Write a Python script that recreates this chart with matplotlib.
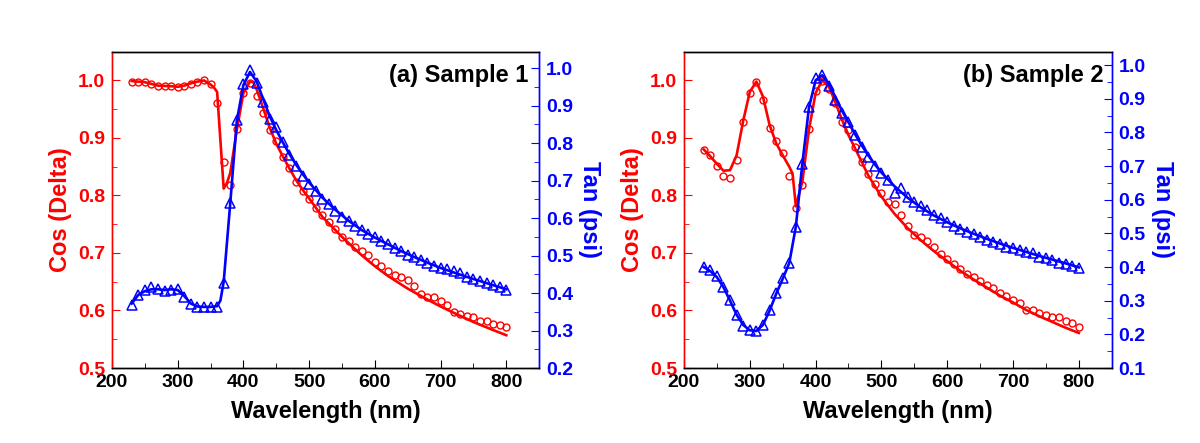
import matplotlib
matplotlib.use('Agg')
import matplotlib.pyplot as plt
import numpy as np
from matplotlib.ticker import MultipleLocator

plt.rcParams['font.family'] = 'Liberation Sans'
plt.rcParams['font.weight'] = 'bold'

RED = '#ff0000'
BLUE = '#0000ff'

# measured points, every 10 nm
wl = list(range(230, 801, 10))

cos_a = [0.998, 0.998, 0.997, 0.994, 0.990, 0.990, 0.990, 0.988, 0.990, 0.994,
         0.997, 1.001, 0.994, 0.960, 0.859, 0.818, 0.915, 0.979, 0.996, 0.973,
         0.944, 0.914, 0.895, 0.867, 0.847, 0.824, 0.808, 0.793, 0.779, 0.766,
         0.754, 0.741, 0.728, 0.720, 0.710, 0.704, 0.697, 0.685, 0.677, 0.668,
         0.662, 0.658, 0.653, 0.643, 0.628, 0.624, 0.623, 0.617, 0.610, 0.598,
         0.594, 0.590, 0.588, 0.582, 0.581, 0.577, 0.575, 0.572]
tan_a = [0.369, 0.395, 0.409, 0.416, 0.411, 0.406, 0.409, 0.411, 0.389, 0.371,
         0.363, 0.364, 0.364, 0.364, 0.428, 0.640, 0.862, 0.958, 0.994, 0.960,
         0.911, 0.864, 0.843, 0.804, 0.769, 0.738, 0.713, 0.691, 0.671, 0.651,
         0.638, 0.620, 0.604, 0.591, 0.579, 0.567, 0.558, 0.549, 0.540, 0.530,
         0.520, 0.511, 0.502, 0.496, 0.487, 0.480, 0.473, 0.467, 0.464, 0.460,
         0.453, 0.444, 0.437, 0.431, 0.427, 0.422, 0.416, 0.409]
cos_b = [0.879, 0.870, 0.852, 0.834, 0.830, 0.861, 0.928, 0.979, 0.998, 0.966,
         0.917, 0.895, 0.873, 0.833, 0.779, 0.818, 0.916, 0.982, 0.999, 0.986,
         0.961, 0.928, 0.914, 0.884, 0.859, 0.837, 0.820, 0.804, 0.788, 0.786,
         0.766, 0.747, 0.731, 0.728, 0.720, 0.710, 0.699, 0.690, 0.681, 0.673,
         0.663, 0.658, 0.652, 0.644, 0.639, 0.630, 0.625, 0.618, 0.613, 0.600,
         0.600, 0.595, 0.593, 0.588, 0.589, 0.582, 0.579, 0.571]
tan_b = [0.400, 0.390, 0.372, 0.340, 0.301, 0.258, 0.226, 0.212, 0.209, 0.228,
         0.273, 0.323, 0.367, 0.413, 0.520, 0.706, 0.876, 0.961, 0.970, 0.938,
         0.896, 0.857, 0.832, 0.792, 0.756, 0.726, 0.700, 0.679, 0.659, 0.621,
         0.634, 0.609, 0.594, 0.580, 0.570, 0.555, 0.545, 0.535, 0.522, 0.513,
         0.505, 0.498, 0.489, 0.481, 0.473, 0.468, 0.461, 0.456, 0.451, 0.446,
         0.441, 0.431, 0.426, 0.421, 0.413, 0.409, 0.404, 0.397]

# fitted curves
fit_wl_cos_a = [230, 250, 270, 290, 300, 310, 320, 330, 340, 350, 355, 360, 370, 375,
                380, 390, 400, 410, 415, 420, 430, 440, 450, 460, 470, 480, 490, 500,
                520, 550, 580, 600, 620, 650, 680, 700, 720, 750, 780, 800]
fit_cos_a = [0.999, 0.997, 0.991, 0.990, 0.989, 0.991, 0.995, 0.998, 1.000, 0.993,
             0.988, 0.980, 0.812, 0.822, 0.839, 0.914, 0.978, 0.998, 0.997, 0.985,
             0.952, 0.918, 0.890, 0.868, 0.847, 0.827, 0.810, 0.795, 0.763, 0.728,
             0.696, 0.677, 0.660, 0.638, 0.619, 0.607, 0.596, 0.580, 0.566, 0.557]
fit_wl_tan_a = [230, 240, 250, 260, 270, 280, 290, 300, 310, 320, 330, 340, 350, 360,
                365, 370, 380, 390, 400, 410, 420, 430, 440, 450, 460, 470, 480, 490,
                500, 520, 540, 560, 580, 600, 620, 640, 660, 680, 700, 720, 740, 760,
                780, 800]
fit_tan_a = [0.372, 0.395, 0.405, 0.410, 0.410, 0.408, 0.410, 0.408, 0.392, 0.372,
             0.364, 0.363, 0.363, 0.365, 0.380, 0.430, 0.640, 0.860, 0.955, 0.990,
             0.965, 0.918, 0.872, 0.835, 0.802, 0.771, 0.743, 0.718, 0.695, 0.655,
             0.622, 0.593, 0.568, 0.548, 0.530, 0.512, 0.496, 0.481, 0.467, 0.455,
             0.443, 0.432, 0.421, 0.410]
fit_wl_cos_b = [230, 240, 250, 260, 270, 280, 290, 300, 310, 320, 330, 340, 350, 360,
                365, 370, 380, 390, 400, 410, 420, 430, 440, 450, 460, 480, 500, 520,
                540, 560, 580, 600, 620, 640, 660, 680, 700, 720, 740, 760, 780, 800]
fit_cos_b = [0.880, 0.868, 0.855, 0.843, 0.844, 0.870, 0.930, 0.980, 0.998, 0.972,
             0.923, 0.891, 0.870, 0.850, 0.838, 0.781, 0.825, 0.915, 0.978, 1.000,
             0.990, 0.962, 0.932, 0.905, 0.882, 0.835, 0.798, 0.768, 0.743, 0.722,
             0.703, 0.686, 0.669, 0.654, 0.640, 0.626, 0.614, 0.601, 0.590, 0.580,
             0.570, 0.561]
fit_wl_tan_b = [230, 240, 250, 260, 270, 280, 290, 300, 310, 320, 330, 340, 350, 360,
                370, 380, 390, 400, 410, 420, 430, 440, 450, 460, 470, 480, 490, 500,
                520, 540, 560, 580, 600, 620, 640, 660, 680, 700, 720, 740, 760, 780, 800]
fit_tan_b = [0.400, 0.388, 0.370, 0.340, 0.300, 0.258, 0.228, 0.212, 0.210, 0.228,
             0.270, 0.320, 0.365, 0.412, 0.520, 0.710, 0.875, 0.955, 0.970, 0.945,
             0.905, 0.865, 0.830, 0.795, 0.762, 0.732, 0.705, 0.681, 0.640, 0.606,
             0.577, 0.553, 0.533, 0.515, 0.499, 0.484, 0.470, 0.457, 0.445, 0.433,
             0.422, 0.411, 0.399]


def panel(rect, title, cos_pts, tan_pts, fwl_c, fcos, fwl_t, ftan, tan_lim, title_x):
    ax = fig.add_axes(rect)
    ax2 = ax.twinx()

    ax.plot(fwl_c, fcos, color=RED, lw=1.9)
    ax.plot(wl, cos_pts, 'o', ms=5, mfc='none', mec=RED, mew=1.0)
    ax2.plot(fwl_t, ftan, color=BLUE, lw=1.9)
    ax2.plot(wl, tan_pts, '^', ms=7, mfc='none', mec=BLUE, mew=1.1)

    ax.set_xlim(200, 850)
    ax.set_ylim(0.5, 1.05)
    ax2.set_ylim(*tan_lim)

    ax.set_xticks(range(200, 801, 100))
    ax.set_xticks(range(250, 801, 100), minor=True)
    ax.yaxis.set_minor_locator(MultipleLocator(0.05))
    ax2.yaxis.set_major_locator(MultipleLocator(0.1))
    ax2.yaxis.set_minor_locator(MultipleLocator(0.05))

    for a in (ax, ax2):
        for s in a.spines.values():
            s.set_linewidth(1.0)
        a.spines['top'].set_color('black')
        a.spines['bottom'].set_color('black')
        a.spines['left'].set_color(RED)
        a.spines['right'].set_color(BLUE)

    ax.tick_params(axis='x', which='both', direction='in', top=False, colors='black',
                   labelsize=14, pad=4)
    ax.tick_params(axis='x', which='major', length=6)
    ax.tick_params(axis='x', which='minor', length=3.5)
    ax.tick_params(axis='y', which='both', direction='in', colors=RED,
                   labelsize=14, pad=5)
    ax.tick_params(axis='y', which='major', length=6)
    ax.tick_params(axis='y', which='minor', length=3.5)
    ax2.tick_params(axis='y', which='both', direction='in', colors=BLUE,
                    labelsize=14, pad=5)
    ax2.tick_params(axis='y', which='major', length=6)
    ax2.tick_params(axis='y', which='minor', length=3.5)

    ax.set_yticks(np.arange(0.5, 1.01, 0.1))
    ax.set_yticklabels(['0.5', '0.6', '0.7', '0.8', '0.9', '1.0'])

    ax.set_xlabel('Wavelength (nm)', fontsize=17, fontweight='bold', labelpad=7)
    ax.set_ylabel('Cos (Delta)', fontsize=17, fontweight='bold', color=RED, labelpad=4)
    ax2.set_ylabel('Tan (psi)', fontsize=17, fontweight='bold', color=BLUE,
                   rotation=270, labelpad=20)

    ax.text(title_x, 0.925, title, transform=ax.transAxes, ha='right', va='center',
            fontsize=17, fontweight='bold')
    return ax, ax2


fig = plt.figure(figsize=(12, 4.43), dpi=100)

panel([0.0933, 0.1693, 0.356, 0.714], '(a) Sample 1', cos_a, tan_a,
      fit_wl_cos_a, fit_cos_a, fit_wl_tan_a, fit_tan_a, (0.2, 1.044), 0.975)
panel([0.570, 0.1693, 0.3564, 0.714], '(b) Sample 2', cos_b, tan_b,
      fit_wl_cos_b, fit_cos_b, fit_wl_tan_b, fit_tan_b, (0.1, 1.04), 0.98)

fig.savefig('out.png', dpi=100)
